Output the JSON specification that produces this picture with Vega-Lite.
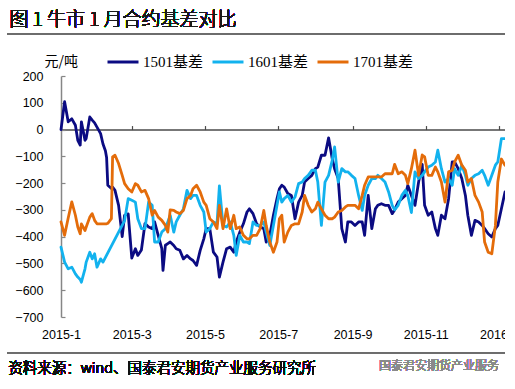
{
  "$schema": "https://vega.github.io/schema/vega-lite/v6.json",
  "width": 444,
  "height": 241,
  "autosize": {"type": "none"},
  "padding": {"left": 61, "top": 76, "right": 0, "bottom": 72},
  "background": "white",
  "config": {"view": {"stroke": null}},
  "data": {
    "values": [
      {"d": "2015-01-01", "1501基差": 0, "1601基差": -439, "1701基差": -345},
      {"d": "2015-01-04", "1501基差": 104, "1601基差": -495, "1701基差": -395},
      {"d": "2015-01-07", "1501基差": 29, "1601基差": -520, "1701基差": -330},
      {"d": "2015-01-10", "1501基差": 40, "1601基差": -514, "1701基差": -270},
      {"d": "2015-01-13", "1501基差": 16, "1601基差": -539, "1701基差": -320},
      {"d": "2015-01-15", "1501基差": -40, "1601基差": -551, "1701基差": -364},
      {"d": "2015-01-17", "1501基差": -58, "1601基差": -560, "1701基差": -389},
      {"d": "2015-01-18", "1501基差": 29, "1601基差": -570, "1701基差": -352},
      {"d": "2015-01-21", "1501基差": -40, "1601基差": -520, "1701基差": -377},
      {"d": "2015-01-22", "1501基差": -33, "1601基差": -495, "1701基差": -364},
      {"d": "2015-01-25", "1501基差": 47, "1601基差": -458, "1701基差": -327},
      {"d": "2015-01-27", "1501基差": 35, "1601基差": -483, "1701基差": -314},
      {"d": "2015-01-29", "1501基差": 25, "1601基差": -464, "1701基差": -339},
      {"d": "2015-01-31", "1501基差": 9, "1601基差": -514, "1701基差": -352},
      {"d": "2015-02-03", "1501基差": -15, "1601基差": -483, "1701基差": -352},
      {"d": "2015-02-05", "1501基差": -54, "1601基差": -495, "1701基差": -352},
      {"d": "2015-02-07", "1501基差": -79, "1701基差": -352},
      {"d": "2015-02-08", "1501基差": -104, "1701基差": -352},
      {"d": "2015-02-09", "1501基差": -208, "1701基差": -350},
      {"d": "2015-02-12", "1501基差": -220, "1701基差": -333},
      {"d": "2015-02-13", "1501基差": -215, "1701基差": -102},
      {"d": "2015-02-15", "1501基差": -227, "1701基差": -96},
      {"d": "2015-02-18", "1501基差": -283, "1701基差": -127},
      {"d": "2015-02-21", "1501基差": -400, "1701基差": -171},
      {"d": "2015-02-23", "1501基差": -320, "1601基差": -340, "1701基差": -202},
      {"d": "2015-02-26", "1501基差": -315, "1601基差": -258, "1701基差": -221},
      {"d": "2015-03-01", "1501基差": -480, "1601基差": -264, "1701基差": -233},
      {"d": "2015-03-04", "1501基差": -445, "1601基差": -271, "1701基差": -202},
      {"d": "2015-03-06", "1501基差": -470, "1601基差": -333, "1701基差": -208},
      {"d": "2015-03-09", "1501基差": -450, "1601基差": -370, "1701基差": -233},
      {"d": "2015-03-12", "1501基差": -351, "1601基差": -370, "1701基差": -227},
      {"d": "2015-03-15", "1501基差": -364, "1601基差": -271, "1701基差": -258},
      {"d": "2015-03-18", "1501基差": -370, "1601基差": -283, "1701基差": -320},
      {"d": "2015-03-20", "1501基差": -345, "1601基差": -420, "1701基差": -302},
      {"d": "2015-03-23", "1501基差": -395, "1601基差": -420, "1701基差": -327},
      {"d": "2015-03-26", "1501基差": -445, "1601基差": -383, "1701基差": -339},
      {"d": "2015-03-27", "1501基差": -526},
      {"d": "2015-03-29", "1501基差": -432, "1601基差": -370, "1701基差": -358},
      {"d": "2015-03-31", "1501基差": -426, "1601基差": -345, "1701基差": -383},
      {"d": "2015-04-02", "1501基差": -420, "1601基差": -320, "1701基差": -300},
      {"d": "2015-04-05", "1501基差": -433, "1601基差": -383, "1701基差": -302},
      {"d": "2015-04-07", "1501基差": -445, "1601基差": -345, "1701基差": -308},
      {"d": "2015-04-10", "1501基差": -451, "1601基差": -320, "1701基差": -314},
      {"d": "2015-04-13", "1501基差": -483, "1601基差": -296, "1701基差": -302},
      {"d": "2015-04-16", "1501基差": -470, "1601基差": -227, "1701基差": -258},
      {"d": "2015-04-19", "1501基差": -483, "1601基差": -258, "1701基差": -246},
      {"d": "2015-04-21", "1501基差": -489, "1601基差": -246, "1701基差": -221},
      {"d": "2015-04-24", "1501基差": -507, "1601基差": -246, "1701基差": -208},
      {"d": "2015-04-27", "1501基差": -451, "1601基差": -283, "1701基差": -233},
      {"d": "2015-04-30", "1501基差": -408, "1601基差": -308, "1701基差": -271},
      {"d": "2015-05-02", "1501基差": -370, "1601基差": -383, "1701基差": -283},
      {"d": "2015-05-05", "1501基差": -370, "1601基差": -370, "1701基差": -333},
      {"d": "2015-05-08", "1501基差": -458, "1601基差": -345, "1701基差": -345},
      {"d": "2015-05-11", "1501基差": -476, "1601基差": -352, "1701基差": -370},
      {"d": "2015-05-13", "1501基差": -551, "1601基差": -210, "1701基差": -283},
      {"d": "2015-05-16", "1501基差": -495, "1601基差": -358, "1701基差": -370},
      {"d": "2015-05-19", "1501基差": -445, "1601基差": -364, "1701基差": -296},
      {"d": "2015-05-22", "1501基差": -439, "1601基差": -345, "1701基差": -370},
      {"d": "2015-05-25", "1501基差": -458, "1601基差": -395, "1701基差": -320},
      {"d": "2015-05-27", "1501基差": -420, "1601基差": -470, "1701基差": -370},
      {"d": "2015-05-30", "1501基差": -383, "1601基差": -395, "1701基差": -364},
      {"d": "2015-06-02", "1501基差": -352, "1601基差": -420, "1701基差": -395},
      {"d": "2015-06-05", "1501基差": -308, "1601基差": -420, "1701基差": -408},
      {"d": "2015-06-07", "1501基差": -296, "1601基差": -426, "1701基差": -408},
      {"d": "2015-06-10", "1501基差": -314, "1601基差": -345, "1701基差": -395},
      {"d": "2015-06-13", "1501基差": -352, "1601基差": -358, "1701基差": -395},
      {"d": "2015-06-16", "1501基差": -364, "1601基差": -358, "1701基差": -370},
      {"d": "2015-06-19", "1501基差": -370, "1601基差": -345, "1701基差": -302},
      {"d": "2015-06-21", "1501基差": -420, "1601基差": -383, "1701基差": -358},
      {"d": "2015-06-24", "1501基差": -395, "1601基差": -433, "1701基差": -420},
      {"d": "2015-06-27", "1501基差": -320, "1601基差": -358, "1701基差": -458},
      {"d": "2015-06-30", "1501基差": -258, "1601基差": -283, "1701基差": -420},
      {"d": "2015-07-02", "1501基差": -221, "1601基差": -233, "1701基差": -333},
      {"d": "2015-07-04", "1501基差": -208, "1601基差": -271, "1701基差": -320},
      {"d": "2015-07-06", "1501基差": -215, "1601基差": -258, "1701基差": -420},
      {"d": "2015-07-09", "1501基差": -239, "1601基差": -246, "1701基差": -383},
      {"d": "2015-07-12", "1501基差": -246, "1601基差": -271, "1701基差": -358},
      {"d": "2015-07-15", "1501基差": -333, "1601基差": -252, "1701基差": -352},
      {"d": "2015-07-18", "1501基差": -271, "1601基差": -202, "1701基差": -352},
      {"d": "2015-07-21", "1501基差": -246, "1601基差": -196, "1701基差": -308},
      {"d": "2015-07-23", "1501基差": -196, "1601基差": -183, "1701基差": -246},
      {"d": "2015-07-26", "1501基差": -183, "1601基差": -171, "1701基差": -283},
      {"d": "2015-07-29", "1501基差": -171, "1601基差": -152, "1701基差": -308},
      {"d": "2015-08-01", "1501基差": -146, "1601基差": -152, "1701基差": -296},
      {"d": "2015-08-03", "1501基差": -140, "1601基差": -196, "1701基差": -271},
      {"d": "2015-08-06", "1501基差": -96, "1601基差": -358, "1701基差": -296},
      {"d": "2015-08-09", "1501基差": -96, "1601基差": -196, "1701基差": -320},
      {"d": "2015-08-12", "1501基差": -31, "1601基差": -171, "1701基差": -333},
      {"d": "2015-08-15", "1501基差": -108, "1601基差": -115, "1701基差": -333},
      {"d": "2015-08-17", "1501基差": -146, "1601基差": -65, "1701基差": -327},
      {"d": "2015-08-20", "1501基差": -183, "1601基差": -196, "1701基差": -308},
      {"d": "2015-08-23", "1501基差": -370, "1601基差": -146, "1701基差": -302},
      {"d": "2015-08-26", "1501基差": -420, "1601基差": -158, "1701基差": -289},
      {"d": "2015-08-28", "1501基差": -345, "1601基差": -158, "1701基差": -283},
      {"d": "2015-08-31", "1501基差": -345, "1601基差": -171, "1701基差": -283},
      {"d": "2015-09-03", "1501基差": -358, "1601基差": -183, "1701基差": -283},
      {"d": "2015-09-06", "1501基差": -345, "1601基差": -246, "1701基差": -296},
      {"d": "2015-09-09", "1501基差": -345, "1601基差": -302, "1701基差": -246},
      {"d": "2015-09-11", "1501基差": -395, "1601基差": -246, "1701基差": -208},
      {"d": "2015-09-14", "1501基差": -246, "1601基差": -208, "1701基差": -177},
      {"d": "2015-09-17", "1501基差": -370, "1601基差": -183, "1701基差": -177},
      {"d": "2015-09-20", "1501基差": -296, "1601基差": -183, "1701基差": -177},
      {"d": "2015-09-22", "1501基差": -283, "1601基差": -171, "1701基差": -177},
      {"d": "2015-09-25", "1501基差": -277, "1601基差": -183, "1701基差": -177},
      {"d": "2015-09-28", "1501基差": -283, "1601基差": -196, "1701基差": -165},
      {"d": "2015-10-01", "1501基差": -283, "1601基差": -233, "1701基差": -165},
      {"d": "2015-10-04", "1501基差": -314, "1601基差": -283, "1701基差": -165},
      {"d": "2015-10-06", "1501基差": -300, "1601基差": -300, "1701基差": -130},
      {"d": "2015-10-09", "1501基差": -271, "1601基差": -283, "1701基差": -165},
      {"d": "2015-10-12", "1501基差": -258, "1601基差": -246, "1701基差": -158},
      {"d": "2015-10-15", "1501基差": -246, "1601基差": -227, "1701基差": -171},
      {"d": "2015-10-17", "1501基差": -208, "1601基差": -246, "1701基差": -202},
      {"d": "2015-10-20", "1501基差": -246, "1601基差": -310, "1701基差": -146},
      {"d": "2015-10-23", "1501基差": -283, "1601基差": -158, "1701基差": -77},
      {"d": "2015-10-26", "1501基差": -196, "1601基差": -183, "1701基差": -171},
      {"d": "2015-10-29", "1501基差": -130, "1601基差": -171, "1701基差": -95},
      {"d": "2015-10-31", "1501基差": -283, "1601基差": -158, "1701基差": -102},
      {"d": "2015-11-03", "1501基差": -320, "1601基差": -140, "1701基差": -171},
      {"d": "2015-11-06", "1501基差": -308, "1601基差": -133, "1701基差": -171},
      {"d": "2015-11-09", "1501基差": -370, "1601基差": -121, "1701基差": -140},
      {"d": "2015-11-11", "1501基差": -395, "1601基差": -77, "1701基差": -158},
      {"d": "2015-11-14", "1501基差": -320, "1601基差": -146, "1701基差": -196},
      {"d": "2015-11-17", "1501基差": -333, "1601基差": -196, "1701基差": -271},
      {"d": "2015-11-20", "1501基差": -258, "1601基差": -183, "1701基差": -158},
      {"d": "2015-11-23", "1501基差": -121, "1601基差": -208, "1701基差": -152},
      {"d": "2015-11-25", "1501基差": -121, "1601基差": -146, "1701基差": -121},
      {"d": "2015-11-28", "1501基差": -146, "1601基差": -171, "1701基差": -96},
      {"d": "2015-12-01", "1501基差": -183, "1601基差": -133, "1701基差": -133},
      {"d": "2015-12-04", "1501基差": -246, "1601基差": -171, "1701基差": -152},
      {"d": "2015-12-06", "1501基差": -320, "1601基差": -208, "1701基差": -196},
      {"d": "2015-12-09", "1501基差": -395, "1601基差": -183, "1701基差": -183},
      {"d": "2015-12-12", "1501基差": -339, "1601基差": -171, "1701基差": -246},
      {"d": "2015-12-15", "1501基差": -345, "1601基差": -165, "1701基差": -271},
      {"d": "2015-12-18", "1501基差": -358, "1601基差": -152, "1701基差": -308},
      {"d": "2015-12-20", "1501基差": -370, "1601基差": -171, "1701基差": -420},
      {"d": "2015-12-23", "1501基差": -389, "1601基差": -208, "1701基差": -458},
      {"d": "2015-12-26", "1501基差": -401, "1601基差": -171, "1701基差": -464},
      {"d": "2015-12-29", "1501基差": -370, "1601基差": -133, "1701基差": -358},
      {"d": "2015-12-31", "1501基差": -358, "1601基差": -121, "1701基差": -196},
      {"d": "2016-01-03", "1501基差": -296, "1601基差": -34, "1701基差": -110},
      {"d": "2016-01-06", "1501基差": -233, "1601基差": -34, "1701基差": -133}
    ]
  },
  "layer": [
    {
      "transform": [{"fold": ["1501基差", "1601基差", "1701基差"], "as": ["series", "v"]}],
      "mark": {"type": "line", "strokeWidth": 2.8, "strokeJoin": "round", "strokeCap": "round", "invalid": "filter"},
      "encoding": {
        "x": {
          "field": "d", "type": "temporal",
          "scale": {"type": "utc", "domain": [{"year": 2015, "month": 1, "date": 1, "utc": true}, {"year": 2016, "month": 1, "date": 6, "utc": true}]},
          "axis": {
            "orient": "bottom",
            "values": [
              {"year": 2015, "month": 1, "date": 1, "utc": true},
              {"year": 2015, "month": 3, "date": 1, "utc": true},
              {"year": 2015, "month": 5, "date": 1, "utc": true},
              {"year": 2015, "month": 7, "date": 1, "utc": true},
              {"year": 2015, "month": 9, "date": 1, "utc": true},
              {"year": 2015, "month": 11, "date": 1, "utc": true},
              {"year": 2016, "month": 1, "date": 1, "utc": true}
            ],
            "format": "%Y-%-m",
            "domain": false, "ticks": false, "grid": false,
            "labelFont": "Liberation Sans", "labelFontSize": 12.5, "labelColor": "#000000",
            "labelPadding": 11, "labelOverlap": false, "labelFlush": false, "labelBound": false,
            "title": null
          }
        },
        "y": {
          "field": "v", "type": "quantitative",
          "scale": {"domain": [-700, 200], "nice": false, "zero": false},
          "axis": {
            "values": [-700, -600, -500, -400, -300, -200, -100, 0, 100, 200],
            "grid": false, "labelOverlap": false, "labelFlush": false, "labelBound": false,
            "domainColor": "#868686", "domainWidth": 1.5,
            "tickColor": "#868686", "tickSize": -4, "tickWidth": 1.2,
            "labelFont": "Liberation Sans", "labelFontSize": 12.5, "labelColor": "#000000",
            "labelPadding": 22,
            "title": "元/吨", "titleAngle": 0, "titleX": -17, "titleY": -15,
            "titleAlign": "left", "titleBaseline": "middle",
            "titleFont": "Noto Sans CJK SC", "titleFontSize": 14, "titleFontWeight": "normal", "titleColor": "#000000"
          }
        },
        "color": {
          "field": "series", "type": "nominal",
          "scale": {"domain": ["1501基差", "1601基差", "1701基差"], "range": ["#0b0b82", "#12b2ee", "#e46c0a"]},
          "legend": {
            "orient": "none", "legendX": 45, "legendY": -31, "direction": "horizontal",
            "title": null, "symbolType": "stroke", "symbolSize": 961, "symbolStrokeWidth": 3,
            "labelFont": "Liberation Serif, Noto Sans CJK SC", "labelFontSize": 15, "labelColor": "#000000",
            "labelOffset": 3, "columnPadding": 2, "padding": 0
          }
        }
      }
    },
    {
      "mark": {"type": "rule", "color": "#6e6e6e", "strokeWidth": 1.2},
      "encoding": {
        "x": {"datum": {"year": 2014, "month": 11, "date": 17, "utc": true}, "type": "temporal",
          "axis": {
            "orient": "top", "offset": -53.56,
            "values": [
              {"year": 2015, "month": 1, "date": 1, "utc": true},
              {"year": 2015, "month": 3, "date": 1, "utc": true},
              {"year": 2015, "month": 5, "date": 1, "utc": true},
              {"year": 2015, "month": 7, "date": 1, "utc": true},
              {"year": 2015, "month": 9, "date": 1, "utc": true},
              {"year": 2015, "month": 11, "date": 1, "utc": true},
              {"year": 2016, "month": 1, "date": 1, "utc": true}
            ],
            "labels": false, "grid": false, "title": null,
            "domain": true, "domainColor": "#4a4a4a", "domainWidth": 1.4,
            "ticks": true, "tickColor": "#4a4a4a", "tickSize": 4, "tickWidth": 1.2
          }
        },
        "x2": {"datum": {"year": 2016, "month": 1, "date": 6, "utc": true}},
        "y": {"datum": 356, "axis": null}
      }
    },
    {
      "mark": {"type": "rule", "color": "#6e6e6e", "strokeWidth": 1.2},
      "encoding": {
        "x": {"datum": {"year": 2014, "month": 11, "date": 17, "utc": true}, "type": "temporal", "axis": null},
        "x2": {"datum": {"year": 2016, "month": 1, "date": 6, "utc": true}},
        "y": {"datum": -836, "axis": null}
      }
    },
    {
      "mark": {"type": "text", "align": "left", "baseline": "middle", "font": "Noto Sans CJK SC", "fontSize": 19, "fontWeight": 300, "color": "#1a1a1a"},
      "encoding": {
        "x": {"datum": {"year": 2014, "month": 11, "date": 19, "utc": true}, "type": "temporal", "axis": null},
        "y": {"datum": 410, "axis": null},
        "text": {"value": "图 1  牛市 1 月合约基差对比"}
      }
    },
    {
      "mark": {"type": "text", "align": "left", "baseline": "middle", "font": "Noto Sans CJK SC", "fontSize": 14.5, "fontWeight": 300, "color": "#111111"},
      "encoding": {
        "x": {"datum": {"year": 2014, "month": 11, "date": 18, "utc": true}, "type": "temporal", "axis": null},
        "y": {"datum": -894, "axis": null},
        "text": {"value": "资料来源：wind、国泰君安期货产业服务研究所"}
      }
    },
    {
      "mark": {"type": "text", "align": "left", "baseline": "middle", "font": "Noto Sans CJK SC", "fontSize": 12, "fontWeight": 300, "color": "#8a8a8a"},
      "encoding": {
        "x": {"datum": {"year": 2015, "month": 9, "date": 23, "utc": true}, "type": "temporal", "axis": null},
        "y": {"datum": -883, "axis": null},
        "text": {"value": "国泰君安期货产业服务"}
      }
    }
  ],
  "resolve": {"axis": {"x": "independent", "y": "independent"}}
}
